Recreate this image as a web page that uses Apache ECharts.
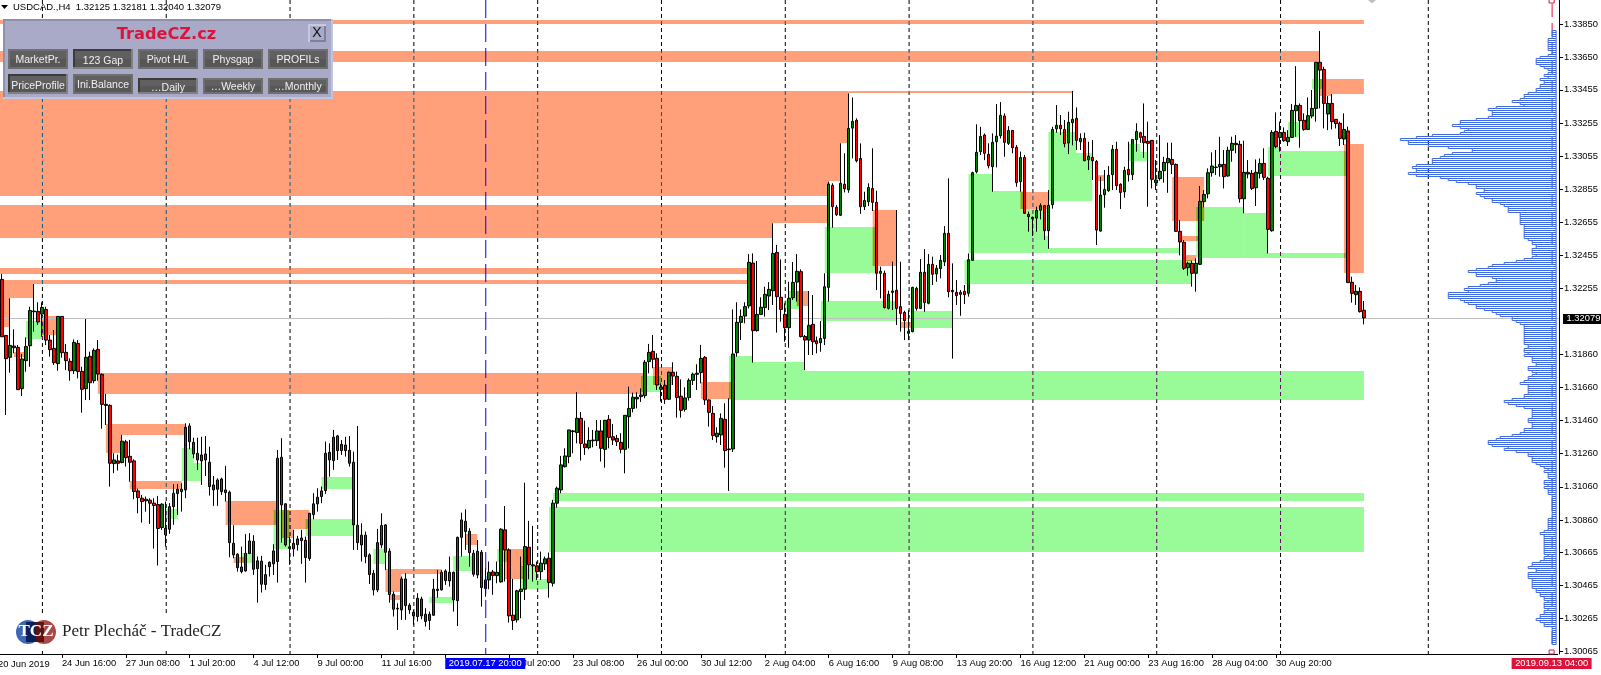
<!DOCTYPE html>
<html><head><meta charset="utf-8">
<style>html,body{margin:0;padding:0;background:#fff;overflow:hidden}#c{width:1601px;height:675px}</style>
<script src="https://cdn.jsdelivr.net/npm/echarts@6/dist/echarts.min.js"></script>
</head><body><div id="c"></div>
<script>
// prices are stored as 1.3 + v / 100000
const open=[2311,1973,1841,1909,1901,1652,1821,1911,2120,2118,2102,2130,1945,1895,1803,2088,1871,1817,1760,1925,1756,1652,1847,1700,1889,1738,1557,1551,1200,1216,1206,1331,1244,1216,1035,991,975,979,961,953,814,770,804,940,1019,1045,1041,1427,1328,1262,1216,1258,1208,1071,1045,1107,1041,1027,719,653,576,552,657,731,566,611,470,578,595,609,1238,957,697,685,711,751,737,627,892,957,1001,1037,1268,1218,1367,1278,1312,1280,1208,828,709,768,649,538,438,709,830,671,412,327,317,504,345,303,277,383,291,253,285,442,438,552,492,544,373,755,852,792,659,528,665,446,498,546,524,486,800,679,285,257,428,442,695,589,583,548,595,629,478,961,1041,1181,1242,1397,1387,1473,1318,1296,1342,1338,1397,1286,1467,1362,1352,1328,1286,1483,1533,1590,1614,1610,1815,1877,1835,1648,1672,1588,1751,1726,1606,1527,1598,1702,1745,1749,1841,1584,1503,1362,1373,1467,1288,1288,1869,2052,2090,2151,2410,2002,2100,2141,2211,2243,2474,2203,2100,2020,2201,2295,2358,1967,1945,2040,1941,1929,1955,2263,2879,2746,2698,2885,2852,3224,3271,3041,2750,2780,2860,2776,2348,2348,2136,2241,2245,2147,2112,1986,1996,2257,2136,2354,2167,2402,2344,2376,2418,2589,2245,2233,2221,2239,2227,2426,2961,3082,3182,3066,2991,3142,3178,3297,3132,3210,3108,2901,3047,2704,2686,2681,2728,2756,2605,2762,3220,3241,3216,3134,3257,3283,3142,3162,3033,3047,3023,2603,2822,2846,2943,3096,2885,2840,2975,2943,3154,3196,3174,3144,3150,2895,2919,2967,3015,3035,3005,2601,2535,2382,2408,2348,2402,2780,2828,2955,2989,2991,3005,2935,3090,3132,3126,2798,2957,2951,2864,2951,3011,2921,2605,3204,3168,3198,3142,3168,3329,3361,3271,3216,3297,3343,3621,3578,3309,3373,3277,3253,3158,3207,2294,2219,2239,2125];
const close=[1965,1833,1913,1899,1646,1831,1907,2124,2116,2054,2142,1945,1887,1809,2088,1869,1821,1760,1931,1756,1648,1841,1688,1883,1740,1557,1551,1202,1222,1202,1335,1236,1208,1031,995,971,985,961,947,808,955,810,940,1021,1045,1031,1419,1332,1258,1222,1252,1222,1061,1041,1101,1031,1025,723,649,572,548,659,733,562,613,472,530,605,673,1232,951,709,689,719,745,735,633,900,957,997,1035,1262,1222,1359,1278,1316,1278,1202,830,723,768,639,530,438,723,826,665,410,321,323,504,343,317,281,387,281,247,291,442,434,544,494,544,377,755,860,790,663,532,671,452,498,544,524,544,804,679,281,253,432,442,699,589,583,548,599,625,482,961,1051,1192,1246,1403,1393,1473,1322,1296,1340,1338,1397,1292,1461,1358,1342,1332,1286,1491,1533,1600,1600,1604,1811,1871,1829,1674,1662,1588,1751,1728,1598,1521,1596,1702,1739,1739,1835,1584,1509,1369,1383,1473,1278,1284,1861,2052,2088,2147,2414,2002,2100,2143,2221,2251,2468,2207,2130,2020,2197,2293,2360,1966,1945,2034,1935,1923,1955,2267,2887,2750,2702,2891,2858,3222,3265,3027,2750,2788,2866,2776,2348,2360,2141,2221,2233,2136,2106,2062,1998,2263,2136,2354,2171,2402,2342,2378,2426,2589,2237,2237,2213,2233,2219,2430,2955,3078,3174,3072,2997,3138,3176,3301,3138,3210,3106,2895,3047,2710,2690,2677,2728,2756,2605,2758,3216,3241,3220,3130,3259,3277,3150,3162,3027,3054,3027,2609,2820,2854,2939,3096,2877,2836,2969,2943,3156,3204,3168,3136,3132,2915,2911,2963,3017,3041,3005,2601,2537,2378,2408,2348,2408,2782,2824,2955,2995,2987,3005,2931,3090,3132,3124,2798,2957,2947,2860,2957,3011,2927,2613,3198,3112,3198,3148,3168,3331,3361,3269,3216,3299,3343,3621,3574,3373,3373,3263,3251,3162,3216,2292,2227,2239,2117,2079];
const high=[2344,1976,2197,2010,1915,1861,1961,2146,2283,2173,2173,2146,1976,2006,2090,2090,1921,1835,1949,1945,1784,2072,1875,1895,1945,1744,1620,1557,1262,1254,1373,1343,1343,1226,1049,1011,1001,991,991,1005,961,971,961,1075,1077,1081,1443,1443,1356,1356,1362,1366,1302,1125,1111,1115,1186,1037,828,659,699,774,780,768,639,643,589,609,713,1282,1353,961,759,800,764,800,759,900,1021,1051,1061,1333,1323,1403,1373,1342,1362,1366,1272,1427,840,790,659,558,806,900,834,689,428,357,518,538,357,317,418,397,327,307,504,558,558,562,639,548,759,904,924,810,679,739,679,568,609,558,609,810,944,689,504,438,639,1085,854,824,609,669,639,663,981,1061,1246,1292,1403,1403,1632,1511,1459,1419,1403,1463,1463,1463,1493,1439,1373,1383,1493,1664,1628,1630,1654,1825,1922,1976,1865,1684,1704,1755,1811,1755,1708,1660,1714,1749,1799,1916,1849,1588,1547,1419,1503,1564,1594,2130,2173,2130,2173,2464,2468,2422,2203,2267,2295,2649,2519,2432,2167,2297,2416,2464,2372,1976,2241,2217,1966,2060,2348,2901,2891,2760,3132,3072,3434,3409,3283,3132,2840,2891,3102,2846,2388,2364,2243,2418,2730,2418,2122,2126,2267,2267,2434,2494,2464,2448,2398,2458,2633,2921,2408,2307,2247,2277,2468,2961,3247,3232,3192,3132,3192,3369,3381,3313,3236,3212,3122,3082,3062,2720,2690,2750,2770,2760,2850,3232,3363,3303,3273,3323,3448,3349,3192,3196,3142,3152,3031,2931,2971,2995,3122,3142,2891,2991,3142,3156,3253,3202,3373,3263,3152,3031,3182,3051,3136,3136,3011,2669,2549,2418,2424,2438,2875,2850,2981,3078,3092,3172,3092,3112,3172,3182,3148,3148,3031,2971,3035,3041,3102,2931,3212,3319,3263,3228,3212,3369,3598,3373,3313,3409,3454,3621,3810,3594,3417,3430,3277,3263,3313,3233,2328,2278,2263,2181];
const low=[1965,1493,1748,1865,1646,1608,1754,1784,1996,2036,1965,1915,1845,1795,1760,1839,1764,1700,1740,1714,1507,1583,1583,1684,1700,1410,1433,1061,1142,1158,1202,1182,1091,985,900,844,910,836,687,585,800,699,776,830,890,910,991,1286,1232,1162,1071,1125,1007,945,945,1011,971,635,629,548,538,548,655,528,361,422,438,518,528,482,723,699,589,639,675,595,482,613,864,910,961,1017,1121,1162,1222,1252,1242,1182,679,679,609,599,474,404,424,689,558,361,277,196,257,257,293,227,247,261,217,196,281,391,434,468,458,307,220,639,679,578,518,508,337,397,442,408,478,482,488,241,196,241,267,377,502,488,498,498,558,391,458,934,1021,1177,1202,1262,1322,1218,1252,1286,1298,1306,1212,1175,1292,1312,1306,1262,1141,1292,1509,1533,1572,1594,1745,1775,1644,1574,1560,1584,1674,1477,1477,1513,1580,1674,1644,1684,1554,1423,1342,1326,1312,1175,1035,1270,1845,1945,2046,2136,1809,1996,2096,2086,2126,2157,1990,2056,1935,1899,2187,2177,1961,1764,1855,1855,1865,1875,1915,2177,2623,2694,2694,2836,2834,3041,3017,2706,2730,2754,2724,2247,2197,2136,2130,2126,2036,1996,1945,1945,1992,2122,2132,2116,2161,2277,2297,2317,2392,2203,1833,2157,2092,2163,2207,2422,2951,3062,3031,2981,2840,2987,3162,3051,3122,3072,2870,2840,2706,2599,2573,2599,2673,2549,2496,2738,3196,3182,3108,3068,3120,3092,3092,3025,2971,2911,2519,2599,2744,2840,2850,2850,2736,2804,2901,2911,3082,3136,3045,2750,2860,2850,2907,2895,2834,2947,2599,2456,2368,2334,2267,2237,2398,2746,2800,2931,2941,2931,2860,2931,3021,3072,2774,2710,2921,2850,2754,2921,2911,2468,2599,3102,3082,3142,3116,3166,3172,3106,3208,3212,3283,3263,3343,3222,3212,3216,3222,3116,3122,2292,2171,2157,2111,2040];

const orangeStart=[-1,-1,-1,-1,-1,212,-1,-1,-1,-1,-1,-1,3,10,24,26,26,32,56,70,70,58,96,96,97,116,126,163,175,218,199,225,255,274,293,295,296,330,330,336];
const orangeEnd=[341,330,212,210,207,268,207,193,187,187,8,2,6,14,161,46,30,45,69,77,73,61,110,100,100,119,131,168,183,224,202,228,262,276,301,300,299,341,333,341];
const orangeHigh=[3876,3689,3448,3136,2905,3448,2760,2650,2380,2308,2308,2199,1873,2091,1747,1441,1373,1095,975,920,830,635,564,534,407,776,685,1783,1692,2730,2241,2056,2839,2941,2929,2573,2459,3520,3430,3128];
const orangeLow=[3852,3623,3136,2905,2815,3436,2650,2561,2344,2284,2199,2024,1843,1976,1620,1373,1266,1045,830,806,753,599,534,426,377,709,504,1674,1590,2392,2151,2018,2734,2905,2664,2543,2422,3430,3418,2352];

const greenStart=[6,45,45,41,68,76,80,60,107,113,93,124,130,130,137,138,182,182,182,160,197,196,205,228,206,242,242,242,242,262,262,282,282,262,241,299,311,317,317,317,322,328];
const greenEnd=[11,48,50,44,72,88,88,63,113,118,96,127,137,134,341,341,188,201,341,165,200,200,224,238,219,248,256,261,262,269,273,285,287,295,298,311,317,337,320,337,325,331];
const greenHigh=[2060,1296,1204,926,920,866,1119,661,395,643,685,685,504,582,938,1023,1849,1813,1759,1729,2241,2187,2181,2121,2627,2947,2845,2734,2573,3202,3074,3128,3082,2501,2428,2748,2712,2471,3112,3086,3261,3520];
const greenLow=[1952,1204,1095,866,683,763,1047,602,359,552,594,606,444,504,667,975,1813,1759,1584,1632,2187,2133,2060,2018,2350,2845,2734,2573,2471,3074,2784,3082,3026,2471,2284,2442,2442,2442,3086,2935,3172,3460];

// count of price touches per price row, top row first
const profileCounts=[1,1,1,1,2,2,2,2,2,2,1,1,2,4,5,5,5,4,3,2,1,2,3,2,4,3,3,4,4,5,5,7,8,8,9,11,9,8,15,17,16,16,16,17,20,24,24,26,24,22,23,24,31,35,39,37,37,32,27,21,21,26,28,29,31,31,31,35,36,35,35,37,35,29,27,25,22,20,20,18,18,20,19,18,16,16,14,13,12,12,12,9,9,9,9,9,9,8,8,8,8,8,8,8,7,6,6,5,5,6,6,6,5,6,8,10,13,16,17,20,22,20,20,16,15,15,17,19,22,23,22,27,27,27,24,23,22,20,20,18,16,15,14,11,11,10,9,8,8,8,8,8,8,8,8,
8,8,7,7,8,8,7,8,6,6,6,5,5,7,7,6,5,6,7,7,8,9,7,7,7,7,7,8,8,11,13,12,10,8,6,6,6,6,6,7,7,6,6,6,8,8,9,11,14,15,17,17,16,12,13,10,7,7,6,6,6,5,4,3,2,3,2,2,2,1,3,3,2,3,2,2,2,1,1,1,1,1,1,1,1,1,1,1,1,2,2,2,2,2,2,3,4,3,3,3,3,3,3,3,3,3,3,2,3,3,4,6,6,7,5,5,7,7,7,6,6,6,6,6,5,5,4,4,3,3,2,3,3,3,2,3,3,4,4,5,4,3,3,1,1,1,1,1,1,1,1,1];
const profileTopPrice=1.33814, profileRowSize=0.00012066, profileBar=389;

const tickLabels=['20 Jun 2019','24 Jun 16:00','27 Jun 08:00','1 Jul 20:00','4 Jul 12:00','9 Jul 00:00','11 Jul 16:00','16 Jul 08:00','18 Jul 20:00','23 Jul 08:00','26 Jul 00:00','30 Jul 12:00','2 Aug 04:00','6 Aug 16:00','9 Aug 08:00','13 Aug 20:00','16 Aug 12:00','21 Aug 00:00','23 Aug 16:00','28 Aug 04:00','30 Aug 20:00','4 Sep 08:00'];
const priceTicks=[1.3385,1.3365,1.33455,1.33255,1.33055,1.32855,1.32655,1.32455,1.32255,1.3186,1.3166,1.3146,1.3126,1.3106,1.3086,1.30665,1.30465,1.30265,1.30065];
const separatorBars=[10,41,72,103,134,165,196,227,258,289,320,357];
const cursorBar=121, cursorLabel='2019.07.17 20:00';
const futureBar=388, futureLabel='2019.09.13 04:00';
const bidPrice=1.32079;
const yMin=1.30051, yMax=1.33997;

const SANS='"Liberation Sans",Arial,sans-serif', ORANGE='#ffa07a', GREEN='#98fb98', OLIVE='#98a018', LABEL_FONT=9.4;
const P=v=>1.3+v/1e5;
const mk=(s,e,h,l)=>s.map((_,i)=>({s:s[i],e:e[i],h:P(h[i]),l:P(l[i])}));
const oranges=mk(orangeStart,orangeEnd,orangeHigh,orangeLow);
const greens=mk(greenStart,greenEnd,greenHigh,greenLow);
const overlaps=[];
oranges.forEach(a=>greens.forEach(b=>{
  const s=Math.max(a.s,b.s),e=Math.min(a.e,b.e),h=Math.min(a.h,b.h),l=Math.max(a.l,b.l);
  if(s<e&&l<h)overlaps.push({s,e,h,l});
}));
const categories=Array.from({length:390},()=> '');
tickLabels.forEach((t,k)=>{if(k>0)categories[k*16-1]=t;});
const candles=open.map((o,i)=>[i,P(o),P(close[i]),P(low[i]),P(high[i])]);

function zoneSeries(rows,color,z){
  return {type:'custom',z,silent:true,animation:false,coordinateSystem:'cartesian2d',data:rows.map(r=>[Math.max(r.s,0),r.h]),
    renderItem(p,api){const r=rows[p.dataIndex];const a=api.coord([Math.max(r.s,0),r.h]),b=api.coord([r.e,r.l]);const x0=r.s<0?0:a[0];
      return {type:'rect',shape:{x:x0,y:Math.round(a[1]),width:b[0]-x0,height:Math.round(b[1])-Math.round(a[1])},style:{fill:color}};}};
}
function vLine(x,y0,y1,stroke,dash,off){
  return {type:'line',shape:{x1:x+.5,y1:y0,x2:x+.5,y2:y1},style:{stroke,lineWidth:1,lineDash:dash,lineDashOffset:off||0,fill:null}};
}
const DASH=[4,3];
const series=[
  {type:'custom',z:1,silent:true,data:separatorBars.map(b=>[b,bidPrice]),
   renderItem(p,api){const b=separatorBars[p.dataIndex];const a=api.coord([b,yMax]),c=api.coord([b,yMin]);return vLine(a[0],a[1],c[1],'#000',DASH);}},
  zoneSeries(oranges,ORANGE,2),
  zoneSeries(greens,GREEN,2),
  zoneSeries(overlaps,OLIVE,3),
  {type:'custom',z:4,silent:true,data:separatorBars.map(b=>[b,bidPrice]),
   renderItem(p,api){const bar=separatorBars[p.dataIndex];const kids=[];
     const add=(rows,col)=>rows.forEach(r=>{if(r.s<=bar&&bar<=r.e){const a=api.coord([bar,r.h]),c=api.coord([bar,r.l]);
       kids.push(vLine(a[0],Math.round(a[1]),Math.round(c[1]),col,DASH,Math.round(a[1])%7));}});
     add(oranges,'#005f85');add(greens,'#670467');
     return {type:'group',children:kids};}},
  {type:'custom',z:5,silent:true,data:[[0,bidPrice]],
   renderItem(p,api){const a=api.coord([0,bidPrice]),c=api.coord([389,bidPrice]);const y=Math.round(a[1])+.5;
     return {type:'line',shape:{x1:0,y1:y,x2:c[0]+3,y2:y},style:{stroke:'#c0c0c0',lineWidth:1}};}},
  {type:'candlestick',z:6,silent:true,animation:false,progressive:0,large:false,barWidth:3,data:candles,
   encode:{x:0,y:[1,2,3,4]},
   itemStyle:{color:'#008000',color0:'#ff0000',borderColor:'#000',borderColor0:'#000',borderWidth:1}},
  {type:'custom',z:7,silent:true,data:[[cursorBar,bidPrice]],
   renderItem(p,api){const a=api.coord([cursorBar,yMax]),c=api.coord([cursorBar,yMin]);return vLine(a[0],a[1],c[1],'#0000ff',[18,6]);}},
  {type:'custom',z:7,silent:true,data:[[futureBar,bidPrice]],
   renderItem(p,api){const a=api.coord([futureBar,yMax]),c=api.coord([futureBar,yMin]);const x=a[0];
     return {type:'group',children:[vLine(x,a[1]+4,c[1]-5,'#dc143c',[13,6]),
       {type:'rect',shape:{x:x-2.5,y:-1,width:5,height:4},style:{fill:'#fff',stroke:'#dc143c',lineWidth:1}},
       {type:'rect',shape:{x:x-2.5,y:c[1]-4,width:5,height:4},style:{fill:'#fff',stroke:'#dc143c',lineWidth:1}}]};}},
  {type:'custom',z:8,silent:true,data:profileCounts.map((n,k)=>[profileBar,profileTopPrice-k*profileRowSize]),
   renderItem(p,api){const n=profileCounts[p.dataIndex],pr=profileTopPrice-p.dataIndex*profileRowSize;
     const r=api.coord([profileBar,pr]),l=api.coord([profileBar-n,pr]);const y=Math.round(r[1])+.5;
     return {type:'rect',shape:{x:l[0]+.5,y,width:r[0]-l[0],height:2},style:{fill:'none',stroke:'#4169e1',lineWidth:1}};}},
  {type:'custom',z:20,silent:true,clip:false,data:[[0,bidPrice]],
   renderItem(p,api){
     const font=LABEL_FONT+'px '+SANS;
     const box=(cx,txt,bg)=>[
       {type:'rect',shape:{x:cx-40,y:658,width:80,height:11},style:{fill:bg}},
       {type:'text',style:{x:cx,y:663.5,text:txt,fill:'#fff',font,align:'center',verticalAlign:'middle'}}];
     const cu=api.coord([cursorBar,bidPrice])[0], fu=api.coord([futureBar,bidPrice])[0];
     const base=api.coord([0,bidPrice]);
     return {type:'group',children:[...box(cu,cursorLabel,'#0000ff'),...box(fu,futureLabel,'#dc143c'),
       {type:'text',style:{x:base[0]-4,y:664,text:tickLabels[0],fill:'#000',font,align:'left',verticalAlign:'middle'}},
       {type:'rect',shape:{x:1563,y:base[1]-4,width:38,height:10},style:{fill:'#000'}},
       {type:'text',style:{x:1566.5,y:base[1]+1,text:bidPrice.toFixed(5),fill:'#fff',font,align:'left',verticalAlign:'middle'}}]};}}
];

const PANEL='#a8aac8';
const rect=(x,y,w,h,fill,z)=>({type:'rect',z:z||100,shape:{x,y,width:w,height:h},style:{fill}});
const text=(x,y,s,font,fill,align,z)=>({type:'text',z:z||101,x,y,style:{text:s,font,fill,align:align||'center',verticalAlign:'middle'}});
function button(x,y,w,h,label,pressed,ty){
  const hi=pressed?'#3c3c3c':'#6f6f6f',lo=pressed?'#808080':'#6f6f6f';
  return [rect(x,y,w,h,'#7b7b7b'),rect(x,y,w,2,hi),rect(x,y,2,h,hi),rect(x+w-2,y,2,h,lo),rect(x,y+h-2,w,2,lo),
    rect(x+2,y+2,w-4,h-4,'#575757'),rect(x+2,y+2,w-4,Math.floor((h-4)/2),'#606060'),
    text(x+w/2,ty,label,'10.5px '+SANS,'#f0f0f0')];
}
const xs=[8,73,138,203,268];
const graphic=[
  {type:'polygon',z:100,shape:{points:[[1,5],[8,5],[4.5,9]]},style:{fill:'#000'}},
  text(13,7,'USDCAD.,H4  1.32125 1.32181 1.32040 1.32079','9.5px '+SANS,'#000','left'),
  {type:'polygon',z:100,shape:{points:[[1368,0],[1376,0],[1372,3.5]]},style:{fill:'#c0c0c0'}},
  rect(14,613,214,37,'#fff',9),
  {type:'circle',z:100,shape:{cx:28,cy:632,r:12},style:{fill:'#3f68b4'}},
  {type:'circle',z:100,shape:{cx:44,cy:632,r:12},style:{fill:'#a94a48'}},
  rect(26,622,10,20,'#0c1e5c'),rect(36,622,8,20,'#5e1212'),
  text(36,632,'TCZ','bold 17px "Liberation Serif",serif','#fff'),
  text(62,632,'Petr Plecháč - TradeCZ','17px "Liberation Serif",serif','#222','left'),
  rect(3,19,330,80,PANEL),rect(3,19,330,2,'#8f90ab'),rect(3,19,2,80,'#8f90ab'),rect(331,19,2,80,'#c2c4de'),rect(3,97,330,2,'#c2c4de'),
  text(166.5,35,'TradeCZ.cz','bold 16.2px "DejaVu Sans",sans-serif','#dc143c'),
  rect(308,24,18,18,'#c8c9e0'),rect(310,26,16,16,'#7f80a0'),rect(310,26,14,14,PANEL),
  text(317,33,'X','14px '+SANS,'#111'),
  ...button(xs[0],49,60,20,'MarketPr.',false,60),
  ...button(xs[1],49,60,20,'123 Gap',true,61),
  ...button(xs[2],49,60,20,'Pivot H/L',false,60),
  ...button(xs[3],49,60,20,'Physgap',false,60),
  ...button(xs[4],49,60,20,'PROFILs',false,60),
  ...button(xs[0],74,60,20,'PriceProfile',true,86),
  ...button(xs[1],74,60,20,'Ini.Balance',false,85),
  ...button(xs[2],78,60,16,'…Daily',true,88),
  ...button(xs[3],78,60,16,'…Weekly',false,87),
  ...button(xs[4],78,60,16,'…Monthly',false,87),
  rect(5,94,326,3,PANEL,102)
];

const chart=echarts.init(document.getElementById('c'),null,{renderer:'canvas',width:1601,height:675});
chart.setOption({
  animation:false,backgroundColor:'#fff',
  grid:{left:0,top:0,width:1560,height:654,containLabel:false},
  xAxis:{type:'category',data:categories,boundaryGap:true,
    axisLine:{show:true,lineStyle:{color:'#000',width:1}},
    axisTick:{show:true,alignWithLabel:true,length:4,lineStyle:{color:'#000'},interval:(i,v)=>v!==''},
    axisLabel:{show:true,interval:(i,v)=>v!=='',align:'left',margin:5,color:'#000',fontFamily:SANS,fontSize:LABEL_FONT,hideOverlap:false,showMinLabel:true,showMaxLabel:false},
    splitLine:{show:false}},
  yAxis:{type:'value',position:'right',offset:1.5,min:yMin,max:yMax,scale:true,
    axisLine:{show:true,onZero:false,lineStyle:{color:'#000',width:1}},
    axisTick:{show:true,length:4,lineStyle:{color:'#000'},customValues:priceTicks},
    axisLabel:{show:true,margin:5,color:'#000',fontFamily:SANS,fontSize:LABEL_FONT,customValues:priceTicks,formatter:v=>(+v).toFixed(5)},
    splitLine:{show:false}},
  series,graphic:{elements:graphic}
});
</script></body></html>
